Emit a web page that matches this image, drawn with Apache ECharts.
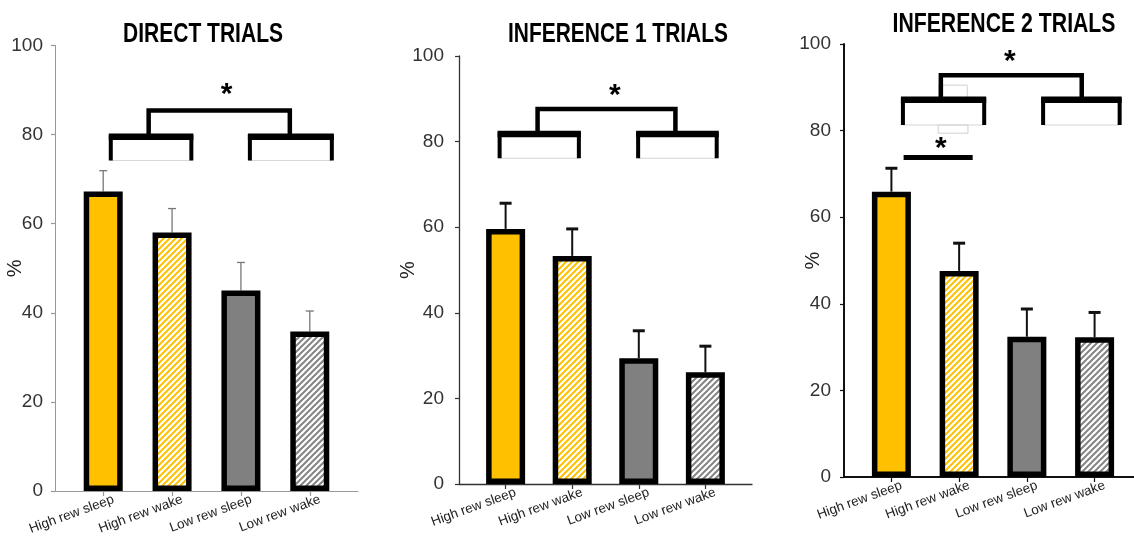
<!DOCTYPE html>
<html>
<head>
<meta charset="utf-8">
<script src="https://cdn.jsdelivr.net/npm/echarts@6/dist/echarts.min.js"></script>
<style>
html,body{margin:0;padding:0;background:#fff;}
#chart{width:1134px;height:545px;}
</style>
</head>
<body>
<div id="chart"></div>
<script>
// ---------------- data ----------------
const categories = ['High rew sleep', 'High rew wake', 'Low rew sleep', 'Low rew wake'];
const panelTitles = ['DIRECT TRIALS', 'INFERENCE 1 TRIALS', 'INFERENCE 2 TRIALS'];

const directMeans = [67.2, 58.0, 45.0, 35.8];
const directErr   = [4.7, 5.4, 6.3, 4.6];
const inf1Means   = [59.6, 53.3, 29.4, 26.1];
const inf1Err     = [6.0, 6.3, 6.4, 6.1];
const inf2Means   = [65.9, 47.6, 32.4, 32.3];
const inf2Err     = [5.4, 6.4, 6.4, 5.7];

// significance brackets in data units: [xStart, xEnd, yTop, yBottom]
const directPairBrackets = [[1.11, 2.28, 79.5, 74.2], [3.13, 4.32, 79.5, 74.2]];
const directMainBracket  = [[1.66, 3.71, 85.4, 79.5]];
const directStars        = [[2.79, 89.9]];

const inf1PairBrackets = [[0.91, 2.10, 81.8, 76.1], [2.99, 4.17, 81.8, 76.1]];
const inf1MainBracket  = [[1.48, 3.55, 87.6, 81.8]];
const inf1Stars        = [[2.64, 91.7]];

const inf2PairBrackets = [[1.17, 2.37, 87.1, 81.3], [3.24, 4.37, 87.1, 81.3]];
const inf2MainBracket  = [[1.73, 3.81, 92.8, 87.1]];
const inf2SigLines     = [[1.18, 2.20, 73.8]];
const inf2Stars        = [[2.75, 96.8], [1.73, 76.7]];
const inf2GhostBoxes   = [[1.70, 2.12, 90.5, 87.1], [1.69, 2.13, 81.3, 79.4]];

// ---------------- styles ----------------
const YELLOW = '#FFC000';
const GRAY = '#808080';
const SANS = "'Liberation Sans', Arial, sans-serif";

function hatch(color) {
  const s = 6;
  const c = document.createElement('canvas');
  c.width = s; c.height = s;
  const g = c.getContext('2d');
  g.fillStyle = '#fff';
  g.fillRect(0, 0, s, s);
  g.strokeStyle = color;
  g.lineWidth = 2;
  g.beginPath();
  g.moveTo(-1, s + 1); g.lineTo(s + 1, -1);
  g.moveTo(-1, 1); g.lineTo(1, -1);
  g.moveTo(s - 1, s + 1); g.lineTo(s + 1, s - 1);
  g.stroke();
  return { image: c, repeat: 'repeat' };
}
const fills = [YELLOW, hatch(YELLOW), GRAY, hatch('#858585')];

const panels = [
  { means: directMeans, err: directErr, pair: directPairBrackets, main: directMainBracket, stars: directStars, lines: [], ghosts: [],
    grid: { left: 55, top: 45.5, width: 303, height: 445.5 }, axisColor: '#999', axisW: 1, errColor: '#777', errW: 1.3, capW: 1.3, capHalf: 4,
    labelMargin: 12, nameGap: 30, titleX: 203, titleY: 34 },
  { means: inf1Means, err: inf1Err, pair: inf1PairBrackets, main: inf1MainBracket, stars: inf1Stars, lines: [], ghosts: [],
    grid: { left: 459, top: 56, width: 293, height: 428 }, axisColor: '#333', axisW: 1.3, errColor: '#111', errW: 2, capW: 3, capHalf: 6,
    labelMargin: 15, nameGap: 41, titleX: 618, titleY: 34 },
  { means: inf2Means, err: inf2Err, pair: inf2PairBrackets, main: inf2MainBracket, stars: inf2Stars, lines: inf2SigLines, ghosts: inf2GhostBoxes,
    grid: { left: 844, top: 44, width: 298, height: 433 }, axisColor: '#111', axisW: 2, errColor: '#111', errW: 2, capW: 3, capHalf: 6,
    labelMargin: 13, nameGap: 21, titleX: 1004, titleY: 24 }
];

const titleWidths = [160, 220, 223];
const labelShift = 0.15;
const grids = [], xAxes = [], yAxes = [], series = [], graphics = [];

panels.forEach((p, k) => {
  grids.push(Object.assign({ outerBoundsMode: 'none', containLabel: false }, p.grid));
  graphics.push({
    type: 'text', x: p.titleX, y: p.titleY, scaleX: 1, silent: true,
    style: { text: panelTitles[k], fontFamily: SANS, fontWeight: 'bold', fontSize: 28, fill: '#000', align: 'center', verticalAlign: 'middle' },
    _w: titleWidths[k]
  });
  xAxes.push({
    type: 'value', gridIndex: k, min: 0.3, max: 4.7,
    axisLine: { show: true, onZero: false, lineStyle: { color: p.axisColor, width: p.axisW } },
    axisTick: { show: true, customValues: [1, 2, 3, 4], length: 5, lineStyle: { color: p.axisColor, width: 1.2 } },
    axisLabel: {
      show: true, customValues: [1, 2, 3, 4].map(v => v + labelShift), rotate: 20, margin: 8,
      formatter: v => categories[Math.round(v - labelShift) - 1],
      fontFamily: SANS, fontSize: 13.5, color: '#222'
    },
    splitLine: { show: false }
  });
  yAxes.push({
    type: 'value', gridIndex: k, min: 0, max: 100, interval: 20,
    name: '%', nameLocation: 'middle', nameGap: p.nameGap, nameRotate: 90, nameMoveOverlap: false,
    nameTextStyle: { fontFamily: SANS, fontSize: 20, color: '#222' },
    axisLine: { show: true, onZero: false, lineStyle: { color: p.axisColor, width: p.axisW } },
    axisTick: { show: true, length: 4, lineStyle: { color: p.axisColor, width: 1.2 } },
    axisLabel: { fontFamily: SANS, fontSize: 19, color: '#333', margin: p.labelMargin },
    splitLine: { show: false }
  });

  // error bars (upper only)
  series.push({
    type: 'custom', xAxisIndex: k, yAxisIndex: k, z: 1, silent: true,
    data: p.means.map((m, i) => [i + 1, m, p.err[i]]),
    renderItem: (params, api) => {
      const x = api.value(0), m = api.value(1), e = api.value(2);
      const a = api.coord([x, m]), b = api.coord([x, m + e]);
      return { type: 'group', children: [
        { type: 'line', shape: { x1: a[0], y1: a[1], x2: b[0], y2: b[1] }, style: { stroke: p.errColor, lineWidth: p.errW } },
        { type: 'line', shape: { x1: b[0] - p.capHalf, y1: b[1], x2: b[0] + p.capHalf, y2: b[1] }, style: { stroke: p.errColor, lineWidth: p.capW } }
      ]};
    }
  });
  // bars
  series.push({
    type: 'bar', xAxisIndex: k, yAxisIndex: k, z: 2, barWidth: 39,
    data: p.means.map((m, i) => ({ value: [i + 1, m], itemStyle: { color: fills[i] } })),
    itemStyle: { borderColor: '#000', borderWidth: 5.5 },
    silent: true
  });
  // ghost boxes (faint)
  if (p.ghosts.length) series.push({
    type: 'custom', xAxisIndex: k, yAxisIndex: k, z: 3, silent: true, data: p.ghosts,
    renderItem: (params, api) => {
      const a = api.coord([api.value(0), api.value(2)]), b = api.coord([api.value(1), api.value(3)]);
      return { type: 'rect', shape: { x: a[0], y: a[1], width: b[0] - a[0], height: b[1] - a[1] }, style: { fill: null, stroke: '#cfcfcf', lineWidth: 1 } };
    }
  });
  // pair brackets
  series.push({
    type: 'custom', xAxisIndex: k, yAxisIndex: k, z: 4, silent: true, data: p.pair,
    renderItem: (params, api) => {
      const x1 = api.value(0), x2 = api.value(1), yt = api.value(2), yb = api.value(3);
      const tl = api.coord([x1, yt]), tr = api.coord([x2, yt]), bl = api.coord([x1, yb]), br = api.coord([x2, yb]);
      return { type: 'group', children: [
        { type: 'line', shape: { x1: bl[0], y1: bl[1], x2: br[0], y2: br[1] }, style: { stroke: '#d5d5d5', lineWidth: 1 } },
        { type: 'polyline', shape: { points: [bl, tl, tr, br] }, style: { stroke: '#000', lineWidth: 4, fill: null } },
        { type: 'line', shape: { x1: tl[0] - 2, y1: tl[1], x2: tr[0] + 2, y2: tr[1] }, style: { stroke: '#000', lineWidth: 6.5 } }
      ]};
    }
  });
  // main brackets
  series.push({
    type: 'custom', xAxisIndex: k, yAxisIndex: k, z: 4, silent: true, data: p.main,
    renderItem: (params, api) => {
      const x1 = api.value(0), x2 = api.value(1), yt = api.value(2), yb = api.value(3);
      const pts = [api.coord([x1, yb]), api.coord([x1, yt]), api.coord([x2, yt]), api.coord([x2, yb])];
      return { type: 'polyline', shape: { points: pts }, style: { stroke: '#000', lineWidth: 4.5, fill: null } };
    }
  });
  // significance lines
  if (p.lines.length) series.push({
    type: 'custom', xAxisIndex: k, yAxisIndex: k, z: 4, silent: true, data: p.lines,
    renderItem: (params, api) => {
      const a = api.coord([api.value(0), api.value(2)]), b = api.coord([api.value(1), api.value(2)]);
      return { type: 'line', shape: { x1: a[0], y1: a[1], x2: b[0], y2: b[1] }, style: { stroke: '#000', lineWidth: 5 } };
    }
  });
  // stars
  series.push({
    type: 'custom', xAxisIndex: k, yAxisIndex: k, z: 5, silent: true, data: p.stars,
    renderItem: (params, api) => {
      const c = api.coord([api.value(0), api.value(1)]);
      return { type: 'text', x: c[0], y: c[1] + 4, style: { text: '*', fontSize: 30, fontWeight: 'bold', fontFamily: SANS, fill: '#000', align: 'center', verticalAlign: 'middle' } };
    }
  });
});

// condense the titles horizontally to the reference's narrow lettering
(function () {
  const cv = document.createElement('canvas').getContext('2d');
  graphics.forEach(g => {
    cv.font = 'bold 28px ' + SANS;
    const w = cv.measureText(g.style.text).width;
    g.scaleX = Math.min(1, g._w / w);
    delete g._w;
  });
})();

const chart = echarts.init(document.getElementById('chart'), null, { renderer: 'canvas' });
chart.setOption({
  animation: false,
  backgroundColor: '#fff',
  graphic: { elements: graphics },
  grid: grids,
  xAxis: xAxes,
  yAxis: yAxes,
  series: series
});
</script>
</body>
</html>
